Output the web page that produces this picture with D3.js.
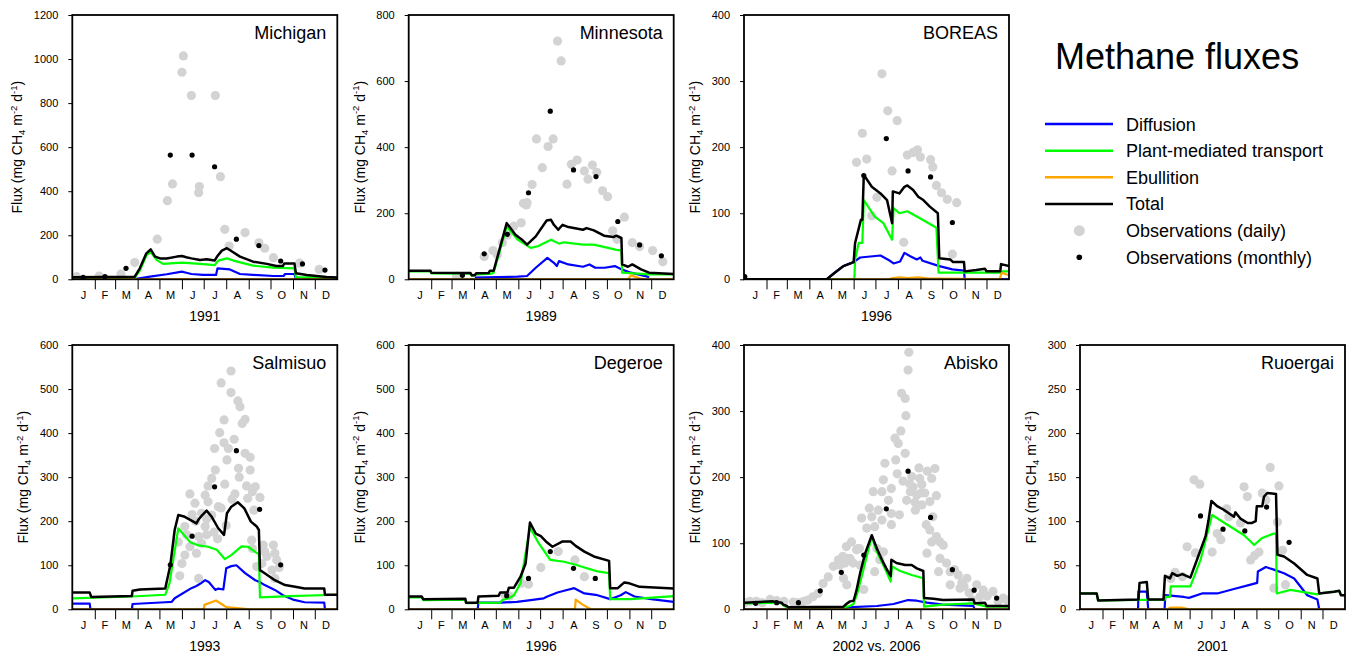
<!DOCTYPE html>
<html><head><meta charset="utf-8">
<script src="https://cdn.jsdelivr.net/npm/d3@7"></script>
<style>body{margin:0;background:#fff} text{font-family:"Liberation Sans",Arial,Helvetica,sans-serif;fill:#000}</style>
</head><body><svg id="chart" width="1350" height="657"></svg>
<script>
// ---------------- DATA ----------------
const monthLabels = ['J','F','M','A','M','J','J','A','S','O','N','D'];
const monthStarts = [0,31,59,90,120,151,181,212,243,273,304,334,365];

const siteNames = ['Michigan','Minnesota','BOREAS','Salmisuo','Degeroe','Abisko','Ruoergai'];
const siteYears = ['1991','1989','1996','1993','1996','2002 vs. 2006','2001'];
const siteYMax  = [1200,800,400,600,600,400,300];
const siteYStep = [200,200,100,100,100,100,50];

const legendLabels = ['Diffusion','Plant-mediated transport','Ebullition','Total','Observations (daily)','Observations (monthly)'];

// Michigan
const michiganDiffusion = [[0,0],[84,0],[107,12],[130,23],[151,35],[157,30],[164,24],[180,20],[198,20],[200,50],[217,45],[231,24],[249,20],[277,15],[291,15],[293,24],[306,24],[308,0],[365,0]];
const michiganPlant = [[0,5],[86,8],[93,40],[102,108],[108,124],[116,88],[125,70],[151,76],[176,70],[196,64],[201,85],[213,95],[222,85],[249,62],[277,53],[306,50],[308,10],[365,5]];
const michiganEbullition = [[0,0],[365,0]];
const michiganTotal = [[0,9],[86,12],[93,50],[102,118],[108,136],[114,103],[121,95],[130,94],[144,103],[151,106],[157,100],[164,95],[176,88],[185,91],[196,85],[200,106],[206,130],[213,141],[220,126],[231,103],[249,80],[268,70],[281,60],[290,60],[292,72],[306,72],[308,27],[323,20],[350,10],[365,8]];
const michiganDaily = [[6,12],[37,15],[67,24],[86,76],[117,182],[131,357],[138,433],[151,940],[153,1014],[164,834],[174,393],[175,421],[197,834],[204,466],[210,227],[216,151],[238,212],[257,166],[265,141],[277,98],[313,73],[340,45]];
const michiganMonthly = [[15,9],[45,12],[74,50],[135,564],[165,564],[196,511],[226,182],[257,153],[287,83],[317,70],[348,42]];

// Minnesota
const minnesotaDiffusion = [[91,5],[150,8],[163,10],[175,35],[191,65],[200,50],[204,40],[207,55],[220,45],[240,38],[249,45],[257,35],[270,35],[284,40],[293,30],[306,20],[329,8],[331,5]];
const minnesotaPlant = [[0,24],[30,24],[31,18],[85,17],[87,10],[93,15],[112,16],[117,20],[135,160],[150,120],[168,95],[178,100],[196,120],[207,108],[214,112],[240,105],[255,105],[285,90],[293,87],[294,20],[331,15],[365,15]];
const minnesotaEbullition = [[0,0],[302,0],[306,12],[318,3],[325,0],[365,0]];
const minnesotaTotal = [[0,26],[30,26],[31,20],[85,19],[87,12],[91,12],[93,18],[110,19],[112,26],[117,26],[135,170],[147,135],[156,120],[163,105],[175,130],[190,178],[196,180],[200,165],[206,150],[212,165],[220,158],[240,150],[245,155],[255,148],[269,132],[282,128],[286,132],[293,125],[294,45],[302,38],[308,45],[320,30],[331,20],[365,16]];
const minnesotaDaily = [[66,10],[104,69],[116,87],[122,74],[129,111],[136,134],[145,161],[155,171],[158,230],[162,225],[163,232],[170,287],[176,425],[184,338],[192,402],[199,425],[205,721],[210,661],[218,288],[224,348],[232,361],[242,328],[247,303],[253,346],[259,324],[267,268],[274,250],[281,147],[287,121],[297,188],[308,111],[318,99],[336,87],[350,53]];
const minnesotaMonthly = [[74,12],[104,77],[136,136],[165,262],[195,509],[227,331],[258,311],[288,175],[318,104],[348,71]];

// BOREAS
const boreasDiffusion = [[0,0],[114,0],[125,10],[137,20],[151,26],[160,33],[188,36],[201,28],[206,24],[215,27],[221,40],[229,35],[238,30],[243,33],[246,28],[269,20],[287,15],[303,13],[304,0],[365,0]];
const boreasPlant = [[0,0],[152,0],[153,30],[158,55],[163,55],[165,120],[180,95],[192,85],[204,60],[206,108],[214,100],[225,103],[246,90],[265,78],[268,10],[303,10],[354,10],[356,12],[365,12]];
const boreasEbullition = [[0,0],[200,0],[205,2],[215,3],[225,2],[240,3],[255,1],[270,1],[352,0],[355,10],[365,6]];
const boreasTotal = [[0,0],[114,0],[125,10],[137,20],[151,26],[153,55],[161,90],[163,90],[165,158],[176,140],[188,130],[197,120],[204,85],[205,133],[214,130],[221,140],[225,142],[233,135],[240,125],[247,120],[256,110],[267,100],[269,32],[284,30],[288,26],[303,26],[304,12],[320,14],[332,16],[334,12],[353,12],[354,23],[365,20]];
const boreasDaily = [[155,177],[163,221],[169,182],[176,96],[183,124],[190,311],[198,255],[204,164],[211,240],[220,56],[225,188],[233,192],[239,196],[243,185],[257,181],[260,170],[265,142],[272,131],[280,121],[293,116],[287,38]];
const boreasMonthly = [[1,4],[165,157],[196,213],[226,164],[257,155],[287,86]];

// Salmisuo
const salmisuoDiffusion = [[0,13],[24,13],[25,0],[82,0],[83,12],[128,16],[137,17],[141,25],[164,48],[171,53],[178,60],[183,66],[188,62],[197,44],[201,47],[208,45],[212,93],[219,98],[226,100],[238,82],[252,66],[258,62],[265,55],[279,44],[290,32],[304,22],[320,16],[347,15],[348,0],[365,0]];
const salmisuoPlant = [[0,25],[82,29],[128,33],[134,60],[146,184],[162,153],[174,145],[187,142],[199,135],[210,114],[219,123],[233,143],[242,142],[254,128],[257,126],[258.5,27],[300,30],[365,33]];
const salmisuoEbullition = [[0,0],[181,0],[182,10],[198,20],[212,5],[245,0],[365,0]];
const salmisuoTotal = [[0,38],[24,38],[26,28],[82,30],[83,42],[93,45],[128,47],[135,100],[141,180],[146,214],[155,210],[171,195],[174,204],[179,214],[185,224],[192,210],[201,184],[209,169],[213,218],[219,233],[228,243],[237,229],[246,199],[254,188],[257,180],[258.5,89],[265,82],[279,66],[293,55],[307,51],[320,47],[347,47],[348,33],[365,33]];
const salmisuoDaily = [[218.6,541],[205,514],[218.6,492],[228,473],[231,460],[238,431],[234,422],[209,430],[203,401],[223,386],[209,378],[196,365],[215,365],[238,354],[245,345],[213,339],[229,320],[245,316],[197,316],[192,297],[210,284],[187,280],[252,278],[248,267],[162,262],[183,259],[224,262],[258.5,254],[169,241],[187,244],[241.6,252],[201,233],[178,218],[192,214],[155,188],[183,188],[157.5,169],[174,165],[185,169],[146,153],[162,142],[178,150],[155,123],[171,127],[151,104],[148,76],[174,70],[247,157],[248,138],[263,146],[265,131],[277,146],[279,127],[281.5,112],[275,89],[279,70],[261,104],[254,97],[205,230],[220,250],[170,200],[195,175],[230,300],[240,280],[165,215],[185,205],[200,160],[212,190],[250,225],[268,120],[285,95]];
const salmisuoMonthly = [[135,101],[165,166],[196,278],[226,360],[258,227],[287,101]];

// Degeroe
const degeroeDiffusion = [[0,0],[95,0],[96,15],[126,15],[149,17],[168,21],[186,25],[191,29],[205,38],[214,42],[228,48],[242,36],[260,32],[277.5,23],[292,32],[299,39],[311,29],[334,23],[365,17]];
const degeroePlant = [[0,27],[18,27],[20,21],[78,22],[79,14],[126,15],[129,21],[138,25],[145,32],[154,59],[167,186],[179,150],[195,112],[214,108],[230,101],[242,95],[260,86],[276,82],[277.5,23],[306,23],[365,30]];
const degeroeEbullition = [[0,0],[229,0],[230,22],[240,10],[251,0],[365,0]];
const degeroeTotal = [[0,29],[18,29],[20,23],[78,24],[79,15],[95,15],[96,29],[124,31],[126,38],[136,38],[138,49],[145,49],[154,74],[161,104],[167,197],[175,172],[182,166],[189,154],[198,142],[212,154],[223,154],[230,144],[242,131],[255,120],[276,110],[277.5,48],[288,48],[297,61],[304,59],[318,51],[365,47]];
const degeroeDaily = [[133,32],[139,30],[155,59],[165,57],[182,95],[206,131],[229,112],[242,74]];
const degeroeMonthly = [[135,31],[165,70],[195,131],[227,93],[257,70]];

// Abisko
const abiskoDiffusion = [[0,0],[140,0],[141,3],[183,5],[206,8],[226,14],[238,13],[252,10],[274,7],[316,5],[317.5,0],[365,0]];
const abiskoPlant = [[0,9],[40,10],[52,9],[54,6],[61,2],[137,3],[146,5],[151,8],[156,24],[162,49],[169,80],[176,110],[183,87],[196,57],[202,42],[204,65],[215,58],[231,52],[247,47],[248,4],[274,7],[316,9],[334,4],[365,4]];
const abiskoEbullition = [[0,0],[365,0]];
const abiskoTotal = [[0,10],[40,12],[52,10],[54,7],[59,5],[61,3],[137,4],[141,8],[146,12],[151,13],[155,29],[160,55],[167,85],[176,112],[183,92],[190,75],[196,62],[202,50],[203,75],[210,70],[222,67],[231,67],[238,62],[247,58],[248,17],[261,16],[274,14],[316,15],[317.5,9],[332,10],[334,5],[365,5]];
const abiskoDaily = [[227,389],[226,362],[217,327],[222,319],[223,293],[216,270],[208,259],[212.5,251],[222,236],[194,221],[209,226],[241,214],[263,213],[252.5,209],[192,196],[203,183],[219,194],[231,201],[242,198],[245,189],[258.5,198],[178,178],[190,178],[229,178],[238,173],[249,176],[265,172],[224,165],[235.5,162],[245,158],[256,163],[172.6,153],[203,145],[214,143],[162,138],[176,140],[190,135],[203,128],[180,125],[169,123],[251,128],[256,120],[265,110],[270,102],[258.5,102],[274.5,97],[148,102],[157,92],[141.5,77],[150.5,70],[160,67],[183,92],[187,75],[180,57],[192,87],[137,47],[141.5,37],[132,67],[252,85],[270,77],[279,70],[284,57],[268,57],[295,52],[307,47],[284,37],[297.5,32],[320.5,37],[329.6,29],[343,27],[325,19],[357,17],[314,14],[1,10],[17,12],[36,15],[45,13],[68,11],[82,12],[95,19],[102,24],[109,39],[116,49],[123,65],[130,75],[136,80],[139,70],[141,95],[146,77],[155,90],[159,92],[165,30],[8,12],[25,10],[55,12],[75,10],[88,14],[350,12],[362,14],[335,20],[310,25],[300,40],[233,185],[236,150],[211,205],[199,165],[185,150],[260,140],[244,176],[228,190],[290,60],[303,35]];
const abiskoMonthly = [[16,9],[45,10],[75,10],[105,28],[134,56],[165,82],[196,152],[226,209],[257,139],[287,60],[317,29],[348,17]];

// Ruoergai
const ruoergaiDiffusion = [[0,0],[80,0],[80.5,20],[92,20],[94,0],[116.5,0],[117.5,16],[143,14],[150,13],[168,18],[189,18],[212,23],[235,28],[244,30],[245,43],[256,48],[267,45],[281,41],[295,35],[313,16],[327,11],[329.5,0],[365,0]];
const ruoergaiPlant = [[0,18],[23,18],[25,10],[117,11],[118,14],[124,14],[125,26],[152,26],[166,56],[182,107],[203,96],[226,84],[240,73],[251,81],[267,86],[270,86],[271,18],[290,22],[304,20],[327,17],[329.5,18],[350,20],[357,21],[359.5,16],[365,16]];
const ruoergaiEbullition = [[0,0],[120,0],[125,2],[140,2],[150,0],[365,0]];
const ruoergaiTotal = [[0,18],[23,18],[25,10],[80.5,11],[82,30],[92,31],[94,11],[115,11],[117,38],[124,35],[127,41],[134,38],[141,40],[152,36],[161,56],[173,83],[177,101],[181,123],[189,117],[198,113],[212,105],[214,110],[221,103],[231,98],[237,98],[242,100],[243.5,117],[251,117],[253.5,128],[258,132],[270,131],[272,62],[281,60],[295,52],[313,39],[327,35],[329.5,18],[350,20],[357,21],[359.5,16],[365,16]];
const ruoergaiDaily = [[157,147],[165,142],[262,161],[226,139],[230.5,128],[251,132],[274,140],[256,124],[202,114],[205,105],[221,98],[147.5,71],[159,64],[182,65],[194,79],[189,86],[235,56],[240.6,61],[246.5,65],[272,99],[279,67],[283,28],[131,42],[141,37],[125,35],[267,24]];
const ruoergaiMonthly = [[166,106],[197,91],[227,89],[257,116],[288,76]];

// ---------------- CHART ----------------
const sites = [
  {diff:michiganDiffusion, plant:michiganPlant, ebu:michiganEbullition, total:michiganTotal, daily:michiganDaily, monthly:michiganMonthly},
  {diff:minnesotaDiffusion, plant:minnesotaPlant, ebu:minnesotaEbullition, total:minnesotaTotal, daily:minnesotaDaily, monthly:minnesotaMonthly},
  {diff:boreasDiffusion, plant:boreasPlant, ebu:boreasEbullition, total:boreasTotal, daily:boreasDaily, monthly:boreasMonthly},
  {diff:salmisuoDiffusion, plant:salmisuoPlant, ebu:salmisuoEbullition, total:salmisuoTotal, daily:salmisuoDaily, monthly:salmisuoMonthly},
  {diff:degeroeDiffusion, plant:degeroePlant, ebu:degeroeEbullition, total:degeroeTotal, daily:degeroeDaily, monthly:degeroeMonthly},
  {diff:abiskoDiffusion, plant:abiskoPlant, ebu:abiskoEbullition, total:abiskoTotal, daily:abiskoDaily, monthly:abiskoMonthly},
  {diff:ruoergaiDiffusion, plant:ruoergaiPlant, ebu:ruoergaiEbullition, total:ruoergaiTotal, daily:ruoergaiDaily, monthly:ruoergaiMonthly}
];

const COLORS = {diff:'#0000FF', plant:'#00FF00', ebu:'#FFA500', total:'#000000', daily:'#D3D3D3', monthly:'#000000'};
const svg = d3.select('#chart');
const W = 265, H = 264.3;
const origins = [[72.3,15],[408.7,15],[744,15],[72.3,345],[408.7,345],[744,345],[1080,345]];

sites.forEach((s, i) => {
  const [x0, y0] = origins[i];
  const g = svg.append('g');
  const xs = d3.scaleLinear().domain([0,365]).range([x0, x0+W]);
  const ys = d3.scaleLinear().domain([0, siteYMax[i]]).range([y0+H, y0]);

  const clipId = 'clip'+i;
  g.append('clipPath').attr('id', clipId).append('rect')
    .attr('x', x0).attr('y', y0).attr('width', W).attr('height', H);
  const plot = g.append('g').attr('clip-path', `url(#${clipId})`);

  plot.selectAll('circle.daily').data(s.daily).join('circle')
    .attr('class','daily').attr('cx', d => xs(d[0])).attr('cy', d => ys(d[1]))
    .attr('r', 4.6).attr('fill', COLORS.daily);

  const line = d3.line().x(d => xs(d[0])).y(d => ys(d[1]));
  [['diff',2.2],['plant',2.2],['ebu',2.2],['total',2.5]].forEach(([k,w]) => {
    plot.append('path').datum(s[k]).attr('d', line)
      .attr('fill','none').attr('stroke', COLORS[k]).attr('stroke-width', w)
      .attr('stroke-linejoin','round');
  });

  plot.selectAll('circle.monthly').data(s.monthly).join('circle')
    .attr('class','monthly').attr('cx', d => xs(d[0])).attr('cy', d => ys(d[1]))
    .attr('r', 2.6).attr('fill', COLORS.monthly);

  g.append('rect').attr('x', x0).attr('y', y0).attr('width', W).attr('height', H)
    .attr('fill','none').attr('stroke','#000').attr('stroke-width',1.8);

  const yTicks = d3.range(0, siteYMax[i] + 1, siteYStep[i]);
  const yAx = g.append('g').attr('transform', `translate(${x0},0)`)
    .call(d3.axisLeft(ys).tickValues(yTicks).tickSize(4).tickPadding(10).tickFormat(d3.format('d')));
  yAx.select('.domain').remove();
  yAx.selectAll('text').style('font-size','11px').style('font-family','"Liberation Sans",Arial,sans-serif');

  const xAx = g.append('g').attr('transform', `translate(0,${y0+H})`)
    .call(d3.axisBottom(xs).tickValues(monthStarts.slice(1,-1)).tickSize(10).tickFormat(''));
  xAx.select('.domain').remove();
  g.selectAll('text.month').data(monthLabels).join('text')
    .attr('class','month')
    .attr('x', (d,j) => xs((monthStarts[j] + monthStarts[j+1]) / 2))
    .attr('y', y0 + H + 20)
    .attr('text-anchor','middle').style('font-size','11px').text(d => d);

  g.append('text').attr('x', x0 + W/2).attr('y', y0 + H + 42)
    .attr('text-anchor','middle').style('font-size','14px').text(siteYears[i]);

  g.append('text').attr('x', x0 + W - 11).attr('y', y0 + 23.5)
    .attr('text-anchor','end').style('font-size','18px').text(siteNames[i]);

  const maxLen = String(siteYMax[i]).length;
  const off = 26 + 6 * maxLen;
  const lab = g.append('text')
    .attr('transform', `translate(${x0 - off},${y0 + H/2}) rotate(-90)`)
    .attr('text-anchor','middle').style('font-size','14px');
  lab.append('tspan').text('Flux (mg CH');
  lab.append('tspan').text('4').style('font-size','9.5px').attr('dy', 3);
  lab.append('tspan').text(' m').attr('dy', -3);
  lab.append('tspan').text('-2').style('font-size','9.5px').attr('dy', -5.5);
  lab.append('tspan').text(' d').attr('dy', 5.5);
  lab.append('tspan').text('-1').style('font-size','9.5px').attr('dy', -5.5);
  lab.append('tspan').text(')').attr('dy', 5.5);
});

// ---------------- LEGEND ----------------
const lg = svg.append('g');
lg.append('text').attr('x', 1055).attr('y', 69).style('font-size','36px').text('Methane fluxes');
const legendKeys = ['diff','plant','ebu','total','daily','monthly'];
const legY = d3.scaleLinear().domain([0,5]).range([124, 257.3]);
legendKeys.forEach((k, j) => {
  const y = legY(j);
  if (j < 4) {
    lg.append('line').attr('x1',1045).attr('x2',1113).attr('y1',y).attr('y2',y)
      .attr('stroke', COLORS[k]).attr('stroke-width', 2.5);
  } else {
    lg.append('circle').attr('cx',1079.3).attr('cy',y).attr('r', k==='daily'?5.5:2.8).attr('fill', COLORS[k]);
  }
  lg.append('text').attr('x',1126).attr('y', y + 6.5).style('font-size','18px').text(legendLabels[j]);
});
</script></body></html>
